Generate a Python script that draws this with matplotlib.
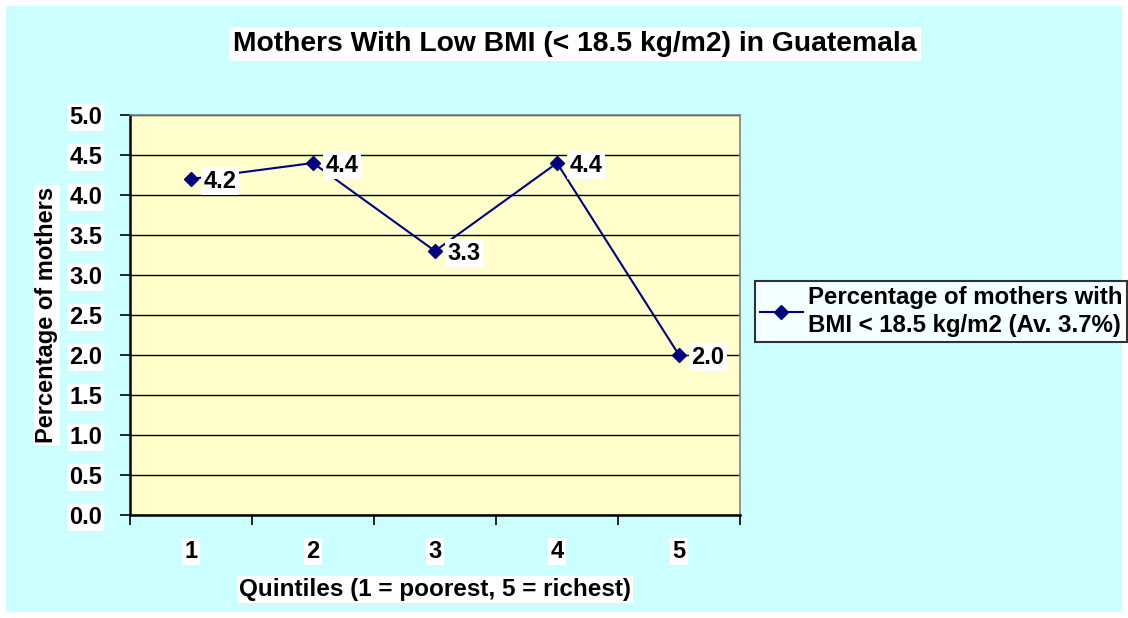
import matplotlib.pyplot as plt
from matplotlib.patches import Rectangle

plt.rcParams['font.family'] = ['Liberation Sans', 'DejaVu Sans']
plt.rcParams['font.weight'] = 'bold'

quintiles = ['1', '2', '3', '4', '5']
low_bmi = [4.2, 4.4, 3.3, 4.4, 2.0]
series_name = 'Percentage of mothers with\nBMI < 18.5 kg/m2 (Av. 3.7%)'
yticks = [0.0, 0.5, 1.0, 1.5, 2.0, 2.5, 3.0, 3.5, 4.0, 4.5, 5.0]

W, H = 1128, 618
fig = plt.figure(figsize=(W / 100, H / 100), dpi=100, facecolor='white')
# chart area background, leaves a thin white border
fig.patches.append(Rectangle((6 / W, 6 / H), (W - 12) / W, (H - 12) / H,
                             transform=fig.transFigure, facecolor='#CCFFFF',
                             edgecolor='none', zorder=-10))

ax = fig.add_axes([130 / W, 1 - 515 / H, 610 / W, 400 / H])
ax.set_facecolor('#FFFFCC')

xs = [i + 0.5 for i in range(len(quintiles))]
line, = ax.plot(xs, low_bmi, color='#000080', lw=1.5, marker='D', ms=7,
                label=series_name, zorder=3)

box = dict(facecolor='white', edgecolor='none', pad=1.5)
for x, v in zip(xs, low_bmi):
    ax.annotate('%.1f' % v, (x, v), xytext=(9, -1.5), textcoords='offset points',
                ha='left', va='center', fontsize=17, fontweight='bold', bbox=box,
                zorder=4)

ax.set_xlim(0, len(quintiles))
ax.set_ylim(0, 5)
ax.set_yticks(yticks)
ax.set_yticklabels(['%.1f' % t for t in yticks])
ax.set_xticks(range(len(quintiles) + 1))
ax.set_xticklabels([])
ax.set_xticks(xs, minor=True)
ax.set_xticklabels(quintiles, minor=True)
ax.tick_params(axis='x', which='minor', length=0, pad=18, labelsize=17)
ax.tick_params(axis='x', which='major', length=7, width=1.2, direction='out')
ax.tick_params(axis='y', length=7, width=1.2, direction='out', pad=13, labelsize=17)
for lab in ax.get_yticklabels() + ax.get_xticklabels(minor=True):
    lab.set_fontweight('bold')
    lab.set_bbox(box)

ax.grid(axis='y', color='black', lw=1)
ax.set_axisbelow(True)
for s in ['top', 'right']:
    ax.spines[s].set_color('#808080')
    ax.spines[s].set_linewidth(1.2)
for s in ['left', 'bottom']:
    ax.spines[s].set_color('black')
    ax.spines[s].set_linewidth(1.8)

ax.set_ylabel('Percentage of mothers', fontsize=17, fontweight='bold',
              labelpad=8, bbox=box)
ax.set_xlabel('Quintiles (1 = poorest, 5 = richest)', fontsize=17.5,
              fontweight='bold', labelpad=11, bbox=box)

fig.text(575 / W, 1 - 44 / H, 'Mothers With Low BMI (< 18.5 kg/m2) in Guatemala',
         ha='center', va='center', fontsize=20.3, fontweight='bold',
         bbox=dict(facecolor='white', edgecolor='none', pad=3))

leg = fig.legend(handles=[line], loc='upper left',
                 bbox_to_anchor=(755 / W, 1 - 281 / H), fontsize=17.3,
                 frameon=True, fancybox=False, borderaxespad=0,
                 handlelength=1.8, handletextpad=0.2, borderpad=0.2)
leg.get_frame().set_edgecolor('black')
leg.get_frame().set_linewidth(1.5)
for t in leg.get_texts():
    t.set_fontweight('bold')
    t.set_linespacing(1.3)

fig.savefig('out.png', dpi=100, facecolor=fig.get_facecolor())
